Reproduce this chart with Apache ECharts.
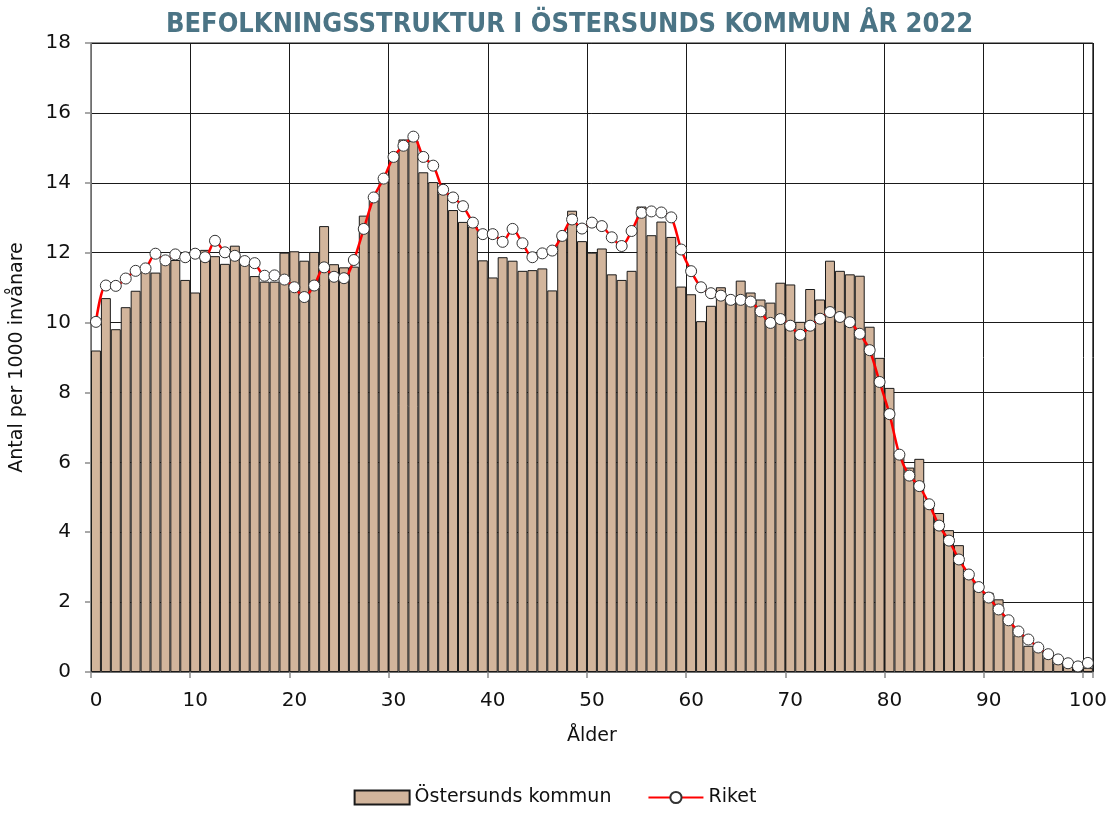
<!DOCTYPE html>
<html>
<head>
<meta charset="utf-8">
<title>Befolkningsstruktur Östersund 2022</title>
<script src="https://cdn.jsdelivr.net/npm/echarts@6/dist/echarts.min.js"></script>
<style>
    html, body { margin: 0; padding: 0; background: #fff; }
    #main { width: 1110px; height: 814px; }
</style>
</head>
<body>
<div id="main"></div>
<script>
// ålder 0..100
var ages = [];
for (var i = 0; i <= 100; i++) {
    ages.push(i);
}

// antal per 1000 invånare, Östersunds kommun (staplar)
var ostersund = [
    9.20, 10.70, 9.81, 10.44, 10.91, 11.60, 11.43, 11.72, 11.79, 11.22,
    10.86, 12.08, 11.90, 11.68, 12.20, 11.80, 11.33, 11.17, 11.17, 12.00,
    12.04, 11.77, 12.02, 12.76, 11.67, 11.58, 11.60, 13.06, 13.50, 14.10,
    14.80, 15.24, 15.20, 14.30, 14.02, 13.70, 13.22, 12.88, 12.75, 11.78,
    11.29, 11.87, 11.77, 11.48, 11.50, 11.55, 10.92, 12.40, 13.20, 12.33,
    12.00, 12.12, 11.38, 11.22, 11.48, 13.32, 12.50, 12.89, 12.45, 11.03,
    10.81, 10.04, 10.48, 11.01, 10.60, 11.20, 10.86, 10.66, 10.57, 11.14,
    11.09, 10.02, 10.96, 10.66, 11.77, 11.48, 11.38, 11.34, 9.88, 8.99,
    8.13, 6.30, 5.85, 6.10, 4.77, 4.55, 4.06, 3.63, 2.85, 2.40,
    2.27, 2.08, 1.45, 1.05, 0.75, 0.60, 0.40, 0.25, 0.15, 0.10,
    0.12
];

// antal per 1000 invånare, riket (linje)
var riket = [
    10.02, 11.06, 11.05, 11.26, 11.48, 11.55, 11.97, 11.78, 11.95, 11.87,
    11.97, 11.87, 12.34, 12.01, 11.91, 11.76, 11.70, 11.34, 11.35, 11.23,
    11.01, 10.73, 11.06, 11.58, 11.31, 11.27, 11.79, 12.68, 13.58, 14.12,
    14.74, 15.06, 15.32, 14.74, 14.49, 13.80, 13.58, 13.33, 12.86, 12.53,
    12.53, 12.31, 12.68, 12.27, 11.87, 11.98, 12.06, 12.48, 12.95, 12.69,
    12.86, 12.76, 12.44, 12.19, 12.62, 13.14, 13.18, 13.15, 13.01, 12.09,
    11.47, 11.01, 10.84, 10.77, 10.65, 10.65, 10.60, 10.32, 9.99, 10.10,
    9.91, 9.65, 9.91, 10.11, 10.30, 10.16, 10.01, 9.68, 9.21, 8.30,
    7.38, 6.22, 5.62, 5.32, 4.80, 4.19, 3.76, 3.22, 2.79, 2.43,
    2.13, 1.79, 1.48, 1.16, 0.93, 0.70, 0.51, 0.36, 0.25, 0.16,
    0.26
];

var seriesNames = ['Östersunds kommun', 'Riket'];

var myChart;

window.onload = function () {
    initChart();
};

function initChart() {
    myChart = echarts.init(document.getElementById('main'), null, { renderer: 'canvas' });

    // varje ålder ritas mitt i sitt intervall [a, a+1]
    var barData = ages.map(function (a, i) { return [a + 0.5, ostersund[i]]; });
    var lineData = ages.map(function (a, i) { return [a + 0.5, riket[i]]; });

    var option = {
        animation: false,
        backgroundColor: '#fff',
        textStyle: { fontFamily: 'DejaVu Sans' },
        title: {
            text: 'BEFOLKNINGSSTRUKTUR I ÖSTERSUNDS KOMMUN ÅR 2022',
            left: 161,
            top: 6,
            textStyle: {
                fontFamily: 'DejaVu Sans Condensed',
                fontWeight: 'bold',
                fontSize: 27,
                color: '#4b7485'
            }
        },
        legend: {
            bottom: 2,
            left: 'center',
            itemWidth: 55,
            itemHeight: 14,
            itemGap: 36,
            textStyle: { fontSize: 19, color: '#111' },
            data: [
                { name: seriesNames[0], icon: 'rect' },
                { name: seriesNames[1] }
            ]
        },
        grid: {
            left: 90,
            right: 16,
            top: 43,
            bottom: 142,
            show: true,
            borderColor: '#1a1a1a',
            borderWidth: 1
        },
        xAxis: {
            type: 'value',
            min: 0,
            max: 101,
            interval: 10,
            name: 'Ålder',
            nameLocation: 'middle',
            nameGap: 55,
            nameTextStyle: { fontSize: 19, color: '#111' },
            axisLine: { show: true, lineStyle: { color: '#8c8c8c', width: 1.5 } },
            axisTick: { show: true, length: 6, lineStyle: { color: '#8c8c8c', width: 1.5 } },
            axisLabel: {
                fontSize: 20,
                color: '#111',
                margin: 19,
                padding: [0, 0, 0, 10],
                formatter: function (v) { return v % 10 === 0 ? v : ''; }
            },
            splitLine: { show: true, lineStyle: { color: '#1a1a1a', width: 1 } }
        },
        yAxis: {
            type: 'value',
            min: 0,
            max: 18,
            interval: 2,
            name: 'Antal per 1000 invånare',
            nameLocation: 'middle',
            nameGap: 64,
            nameTextStyle: { fontSize: 19, color: '#111' },
            axisLine: { show: true, lineStyle: { color: '#8c8c8c', width: 1.5 } },
            axisTick: { show: true, length: 6, lineStyle: { color: '#8c8c8c', width: 1.5 } },
            axisLabel: { fontSize: 20, color: '#111', margin: 20 },
            splitLine: { show: true, lineStyle: { color: '#1a1a1a', width: 1 } }
        },
        series: [
            {
                name: seriesNames[0],
                type: 'bar',
                barWidth: 9.94,
                data: barData,
                itemStyle: {
                    color: '#d2b59c',
                    borderColor: '#1a1a1a',
                    borderWidth: 1
                }
            },
            {
                name: seriesNames[1],
                type: 'line',
                data: lineData,
                smooth: 0.3,
                symbol: 'circle',
                symbolSize: 11,
                lineStyle: { color: '#ff0000', width: 2.5 },
                itemStyle: {
                    color: '#ffffff',
                    borderColor: '#333333',
                    borderWidth: 1
                },
                z: 5
            }
        ]
    };
    myChart.setOption(option);
}
</script>
</body>
</html>
